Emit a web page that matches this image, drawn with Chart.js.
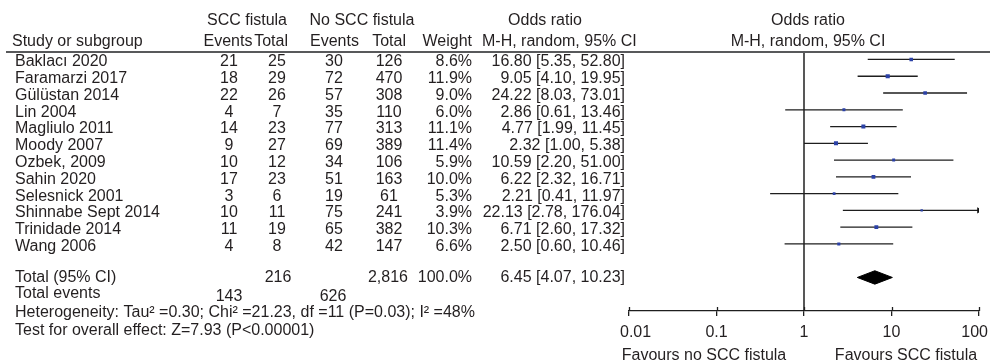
<!DOCTYPE html>
<html>
<head>
<meta charset="utf-8">
<script src="https://cdn.jsdelivr.net/npm/chart.js@4.4.1/dist/chart.umd.min.js"></script>
<style>
  html, body { margin: 0; padding: 0; background: #ffffff; }
  #wrap { width: 990px; height: 363px; }
</style>
</head>
<body>
<div id="wrap"><canvas id="forest" width="990" height="363"></canvas></div>
<script>
// Study-level data
const studies = ['Baklacı 2020', 'Faramarzi 2017', 'Gülüstan 2014', 'Lin 2004', 'Magliulo 2011', 'Moody 2007',
  'Ozbek, 2009', 'Sahin 2020', 'Selesnick 2001', 'Shinnabe Sept 2014', 'Trinidade 2014', 'Wang 2006'];
const sccEvents = [21, 18, 22, 4, 14, 9, 10, 17, 3, 10, 11, 4];
const sccTotal = [25, 29, 26, 7, 23, 27, 12, 23, 6, 11, 19, 8];
const noSccEvents = [30, 72, 57, 35, 77, 69, 34, 51, 19, 75, 65, 42];
const noSccTotal = [126, 470, 308, 110, 313, 389, 106, 163, 61, 241, 382, 147];
const weights = [8.6, 11.9, 9.0, 6.0, 11.1, 11.4, 5.9, 10.0, 5.3, 3.9, 10.3, 6.6];
const oddsRatio = [16.80, 9.05, 24.22, 2.86, 4.77, 2.32, 10.59, 6.22, 2.21, 22.13, 6.71, 2.50];
const ciLow = [5.35, 4.10, 8.03, 0.61, 1.99, 1.00, 2.20, 2.32, 0.41, 2.78, 2.60, 0.60];
const ciHigh = [52.80, 19.95, 73.01, 13.46, 11.45, 5.38, 51.00, 16.71, 11.97, 176.04, 17.32, 10.46];

// Pooled result
const pooledOR = [6.45];
const pooledCI = [4.07, 10.23];
const pooledTotals = [216, 2816];
const pooledEvents = [143, 626];
const pooledWeight = [100.0];
const heterogeneityText = ['Heterogeneity: Tau² =0.30; Chi² =21.23, df =11 (P=0.03); I² =48%'];
const overallEffectText = ['Test for overall effect: Z=7.93 (P<0.00001)'];

// Axis
const xTickValues = [0.01, 0.1, 1, 10, 100];
const xTickLabels = ['0.01', '0.1', '1', '10', '100'];
const favourLabels = ['Favours no SCC fistula', 'Favours SCC fistula'];

const X_MIN = xTickValues[0], X_MAX = xTickValues[xTickValues.length - 1];
const rowOf = i => i + 1;           // study rows 1..12
const TOTAL_ROW = 14;
const FONT = '16px "Liberation Sans", Arial, Helvetica, sans-serif';
const INK = '#231f20';

// CI whiskers, one line per study (clipped at the axis limit)
const ciDatasets = studies.map((s, i) => ({
  type: 'line',
  label: s,
  data: [{ x: ciLow[i], y: rowOf(i) }, { x: Math.min(ciHigh[i], X_MAX), y: rowOf(i) }],
  showLine: true,
  borderColor: '#1e1e1e',
  borderWidth: 1.3,
  pointRadius: 0,
  fill: false,
  order: 3
}));

const datasets = [
  // line of no effect
  {
    type: 'line', label: 'no effect',
    data: [{ x: 1, y: 0.55 }, { x: 1, y: 16 }],
    showLine: true, borderColor: '#111', borderWidth: 1.4, pointRadius: 0, order: 4
  },
  ...ciDatasets,
  // study point estimates, box area by weight
  {
    type: 'scatter', label: 'estimates',
    data: oddsRatio.map((v, i) => ({ x: v, y: rowOf(i) })),
    pointStyle: 'rect',
    pointRadius: weights.map(w => Math.sqrt(w) * 0.85),
    backgroundColor: '#2b41a6', borderWidth: 0, order: 1
  },
  // arrows for intervals running past the axis
  {
    type: 'scatter', label: 'overflow',
    data: ciHigh.map((v, i) => v > X_MAX ? { x: X_MAX, y: rowOf(i) } : null).filter(Boolean),
    pointStyle: 'triangle', pointRotation: 90, pointRadius: 3.6,
    backgroundColor: '#111', borderColor: '#111', borderWidth: 0, order: 1
  },
  // pooled diamond
  {
    type: 'line', label: 'pooled',
    data: [
      { x: pooledCI[0], y: TOTAL_ROW },
      { x: pooledOR[0], y: TOTAL_ROW - 0.4 },
      { x: pooledCI[1], y: TOTAL_ROW },
      { x: pooledOR[0], y: TOTAL_ROW + 0.4 },
      { x: pooledCI[0], y: TOTAL_ROW }
    ],
    showLine: true, fill: 'shape', backgroundColor: '#000', borderColor: '#000', borderWidth: 1,
    pointRadius: 0, tension: 0, order: 2
  }
];

function txt(ctx, s, x, y, align) {
  ctx.textAlign = align || 'left';
  ctx.fillText(s, x, y);
}

const tablePlugin = {
  id: 'forestTable',
  beforeDraw(chart) {
    const c = chart.ctx;
    c.save();
    c.fillStyle = '#ffffff';
    c.fillRect(0, 0, chart.width, chart.height);
    c.restore();
  },
  afterDraw(chart) {
    const c = chart.ctx;
    const ys = chart.scales.y;
    const xs = chart.scales.x;
    c.save();
    c.font = FONT;
    c.fillStyle = INK;
    c.textBaseline = 'middle';

    // headers
    txt(c, 'SCC fistula', 247, 21, 'center');
    txt(c, 'No SCC fistula', 362, 21, 'center');
    txt(c, 'Odds ratio', 545, 21, 'center');
    txt(c, 'Odds ratio', 808, 21, 'center');
    txt(c, 'Study or subgroup', 12, 41.5);
    txt(c, 'Events', 228, 41.5, 'center');
    txt(c, 'Total', 288, 41.5, 'right');
    txt(c, 'Events', 334.5, 41.5, 'center');
    txt(c, 'Total', 406, 41.5, 'right');
    txt(c, 'Weight', 472, 41.5, 'right');
    txt(c, 'M-H, random, 95% CI', 482, 41.5);
    txt(c, 'M-H, random, 95% CI', 808, 41.5, 'center');

    // rule under the header
    c.strokeStyle = '#58595b';
    c.lineWidth = 1.8;
    c.beginPath();
    c.moveTo(6, 52);
    c.lineTo(990, 52);
    c.stroke();

    // study rows
    studies.forEach((s, i) => {
      const y = ys.getPixelForValue(rowOf(i)) + 2.5;
      txt(c, s, 15, y);
      txt(c, String(sccEvents[i]), 229, y, 'center');
      txt(c, String(sccTotal[i]), 277, y, 'center');
      txt(c, String(noSccEvents[i]), 334, y, 'center');
      txt(c, String(noSccTotal[i]), 389, y, 'center');
      txt(c, weights[i].toFixed(1) + '%', 472, y, 'right');
      txt(c, `${oddsRatio[i].toFixed(2)} [${ciLow[i].toFixed(2)}, ${ciHigh[i].toFixed(2)}]`, 625, y, 'right');
    });

    // pooled rows
    const yt = ys.getPixelForValue(TOTAL_ROW);
    txt(c, 'Total (95% CI)', 15, yt);
    txt(c, String(pooledTotals[0]), 278, yt, 'center');
    txt(c, pooledTotals[1].toLocaleString('en-US'), 408, yt, 'right');
    txt(c, pooledWeight[0].toFixed(1) + '%', 472, yt, 'right');
    txt(c, `${pooledOR[0].toFixed(2)} [${pooledCI[0].toFixed(2)}, ${pooledCI[1].toFixed(2)}]`, 625, yt, 'right');
    txt(c, 'Total events', 15, 294);
    txt(c, String(pooledEvents[0]), 229, 297, 'center');
    txt(c, String(pooledEvents[1]), 333, 297, 'center');
    txt(c, heterogeneityText[0], 15, 312.5);
    txt(c, overallEffectText[0], 15, 331);

    // axis tick labels: end labels kept inside the plot width
    const last = xTickValues.length - 1;
    xTickValues.forEach((v, k) => {
      const px = xs.getPixelForValue(v);
      if (k === 0) txt(c, xTickLabels[k], px - 9, 333, 'left');
      else if (k === last) txt(c, xTickLabels[k], px + 9, 333, 'right');
      else txt(c, xTickLabels[k], px, 333, 'center');
    });

    // favours labels under the axis
    txt(c, favourLabels[0], 704, 355.5, 'center');
    txt(c, favourLabels[1], 906, 355.5, 'center');

    // upper half of the axis tick marks
    c.strokeStyle = '#1e1e1e';
    c.lineWidth = 1.3;
    const axisY = ys.getPixelForValue(16);
    xTickValues.forEach(v => {
      const px = Math.round(xs.getPixelForValue(v)) + 0.5;
      c.beginPath();
      c.moveTo(px, axisY - 4);
      c.lineTo(px, axisY);
      c.stroke();
    });
    c.restore();
  }
};

new Chart(document.getElementById('forest'), {
  type: 'scatter',
  data: { datasets },
  options: {
    responsive: false,
    animation: false,
    events: [],
    layout: { padding: { left: 629, right: 11, top: 42.7, bottom: 22 } },
    plugins: { legend: { display: false }, tooltip: { enabled: false } },
    scales: {
      x: {
        type: 'logarithmic',
        min: X_MIN, max: X_MAX,
        position: 'bottom',
        afterBuildTicks(scale) { scale.ticks = xTickValues.map(v => ({ value: v })); },
        afterFit(scale) {
          scale.height = 30;
          scale.paddingLeft = 0;
          scale.paddingRight = 0;
        },
        border: { display: true, color: '#1e1e1e', width: 1.3 },
        grid: { drawOnChartArea: false, drawTicks: true, tickLength: 5, color: '#1e1e1e', lineWidth: 1.3 },
        ticks: { display: false }
      },
      y: {
        type: 'linear', min: 0, max: 16, reverse: true, display: false
      }
    }
  },
  plugins: [tablePlugin]
});
</script>
</body>
</html>
